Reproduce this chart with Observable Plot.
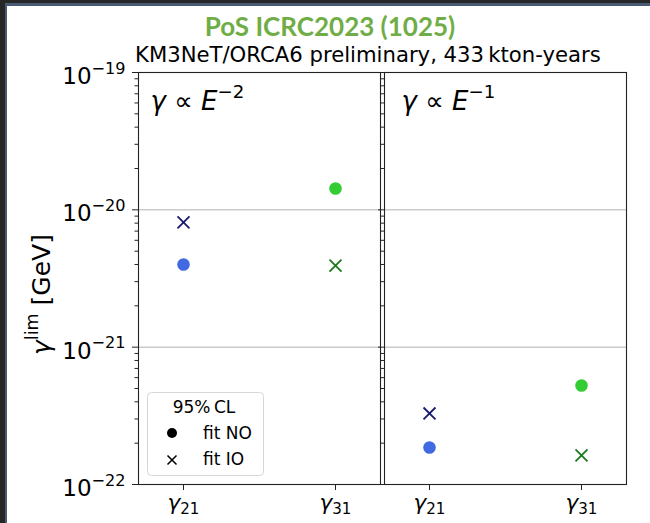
<!DOCTYPE html>
<html>
<head>
<meta charset="utf-8">
<script src="https://cdn.jsdelivr.net/npm/d3@7"></script>
<script src="https://cdn.jsdelivr.net/npm/@observablehq/plot@0.6"></script>
<style>
html, body { margin: 0; padding: 0; }
body { width: 650px; height: 523px; overflow: hidden; background: #262626; }
#page { position: relative; width: 650px; height: 523px; background: #262626; }
#paper { position: absolute; left: 5px; top: 3px; width: 645px; height: 520px; background: #fff;
  box-sizing: border-box; border-left: 2px solid #4a5a72; border-top: 3px solid #4a5a72; }
#title { position: absolute; left: 0; width: 660px; top: 10px; line-height: 26px; text-align: center;
  font: bold 26px Lato, "Open Sans", sans-serif; color: #70AD47; white-space: nowrap; }
#subtitle { position: absolute; left: 135px; top: 44px; line-height: 21px; font-size: 21.2px;
  font-family: "DejaVu Sans", sans-serif; color: #000; white-space: nowrap; }
#chart { position: absolute; left: 0; top: 0; }
#legend { position: absolute; left: 147px; top: 392px; }
</style>
</head>
<body>
<div id="page">
  <div id="paper"></div>
  <div id="chart"></div>
  <div id="title">PoS ICRC2023 (1025)</div>
  <div id="subtitle">KM3NeT/ORCA6 preliminary, 433&#8201;kton-years</div>
  <svg id="legend" width="118" height="85" font-family="DejaVu Sans" font-size="17">
    <rect x="0.5" y="0.5" width="116" height="83" rx="4" fill="#fff" fill-opacity="0.8" stroke="#d6d6d6"></rect>
    <text x="57" y="21" text-anchor="middle">95%&#8201;CL</text>
    <circle cx="25" cy="41" r="5" fill="#000"></circle>
    <path d="M20.5,63.5L29.5,72.5M29.5,63.5L20.5,72.5" stroke="#000" stroke-width="1.5" fill="none"></path>
    <text x="56" y="47">fit NO</text>
    <text x="56" y="73">fit IO</text>
  </svg>
</div>
<script>
// ---- data ----
const panels = ["E-2", "E-1"];
const panelLabels = ["$γ$ ∝ $E$^{−2}", "$γ$ ∝ $E$^{−1}"];
const params = ["γ21", "γ31"];
const paramLabels = ["$γ$_{21}", "$γ$_{31}"];
const fitNO_E2 = [4.0e-21, 1.43e-20];
const fitIO_E2 = [8.1e-21, 3.93e-21];
const fitNO_E1 = [1.86e-22, 5.26e-22];
const fitIO_E1 = [3.29e-22, 1.63e-22];
const yMajor = [1e-22, 1e-21, 1e-20, 1e-19];
const yMajorLabels = ["10^{−22}", "10^{−21}", "10^{−20}", "10^{−19}"];
const gridValues = [1e-21, 1e-20];
const yLabel = "$γ$^{lim} [GeV]";
const seriesKeys = ["γ21 NO", "γ21 IO", "γ31 NO", "γ31 IO"];

// ---- table ----
const rows = [];
[[panels[0], fitNO_E2, "NO"], [panels[0], fitIO_E2, "IO"],
 [panels[1], fitNO_E1, "NO"], [panels[1], fitIO_E1, "IO"]].forEach(([panel, vals, fit]) =>
  vals.forEach((v, i) => rows.push({panel, param: params[i], fit, key: params[i] + " " + fit, value: v})));

const minorTicks = [];
for (let e = -22; e < -19; e++) for (let m = 2; m <= 9; m++) minorTicks.push(m * Math.pow(10, e));

const chart = Plot.plot({
  width: 650,
  height: 523,
  marginLeft: 138,
  marginRight: 23,
  marginTop: 72,
  marginBottom: 39,
  style: {fontFamily: "DejaVu Sans", background: "transparent", overflow: "visible", color: "#000"},
  fx: {domain: panels, paddingInner: 0.0162, paddingOuter: 0, axis: null, label: null},
  x: {domain: params, padding: 0.296, label: null},
  y: {type: "log", domain: [1e-22, 1e-19], label: null},
  color: {domain: seriesKeys, range: ["#4169e1", "#191970", "#32cd32", "#1e7a1e"]},
  marks: [
    Plot.ruleY(gridValues, {stroke: "#b0b0b0", strokeWidth: 1}),
    Plot.frame({stroke: "#222", strokeWidth: 1.1}),
    Plot.axisY({ticks: minorTicks, tickSize: 3.5, tickFormat: () => "", label: null, facetAnchor: null, stroke: "#222"}),
    Plot.axisY({ticks: yMajor, tickSize: 6, tickFormat: () => "", label: null, facetAnchor: null, stroke: "#222"}),
    Plot.axisY({ticks: yMajor, tickSize: 0, tickPadding: 13, fontSize: 23, label: null,
      tickFormat: d => yMajorLabels[yMajor.indexOf(d)], dy: 4}),
    Plot.axisX({tickSize: 6, tickPadding: 4, fontSize: 21.5, label: null, stroke: "#222",
      tickFormat: d => paramLabels[params.indexOf(d)]}),
    Plot.text([panelLabels[0]], {fx: [panels[0]], text: d => d, frameAnchor: "top-left", textAnchor: "start",
      lineAnchor: "top", dx: 12, dy: 19, fontSize: 26}),
    Plot.text([panelLabels[1]], {fx: [panels[1]], text: d => d, frameAnchor: "top-left", textAnchor: "start",
      lineAnchor: "top", dx: 17, dy: 19, fontSize: 26}),
    Plot.text([yLabel], {fx: [panels[0]], text: d => d, frameAnchor: "left", rotate: -90, textAnchor: "middle",
      dx: -97, dy: 16, fontSize: 25}),
    Plot.dot(rows.filter(d => d.fit === "NO"), {fx: "panel", x: "param", y: "value", fill: "key", r: 6.3, symbol: "circle"}),
    Plot.dot(rows.filter(d => d.fit === "IO"), {fx: "panel", x: "param", y: "value", stroke: "key", r: 5.5, symbol: "times", strokeWidth: 1.8})
  ]
});
document.getElementById("chart").appendChild(chart);

// turn "^{..}", "_{..}" and "$..$" markup into real tspans (superscript, subscript, italic)
function mathify(el) {
  const s = el.textContent;
  if (!s || !/[\$\^_]/.test(s)) return;
  const base = parseFloat(getComputedStyle(el).fontSize) || 16;
  while (el.firstChild) el.removeChild(el.firstChild);
  const re = /\$([^$]+)\$|\^\{([^}]*)\}|_\{([^}]*)\}|([^$^_]+)/g;
  const ns = "http://www.w3.org/2000/svg";
  let m, cur = 0;
  while ((m = re.exec(s))) {
    const t = document.createElementNS(ns, "tspan");
    let target = 0;
    if (m[1] !== undefined) { t.textContent = m[1]; t.setAttribute("font-style", "italic"); }
    else if (m[2] !== undefined) { t.textContent = m[2]; t.setAttribute("font-size", base * 0.7); target = -base * 0.45; }
    else if (m[3] !== undefined) { t.textContent = m[3]; t.setAttribute("font-size", base * 0.7); target = base * 0.2; }
    else t.textContent = m[4];
    if (target !== cur) { t.setAttribute("dy", target - cur); cur = target; }
    el.appendChild(t);
  }
}
chart.querySelectorAll("text").forEach(mathify);
</script>
</body>
</html>
